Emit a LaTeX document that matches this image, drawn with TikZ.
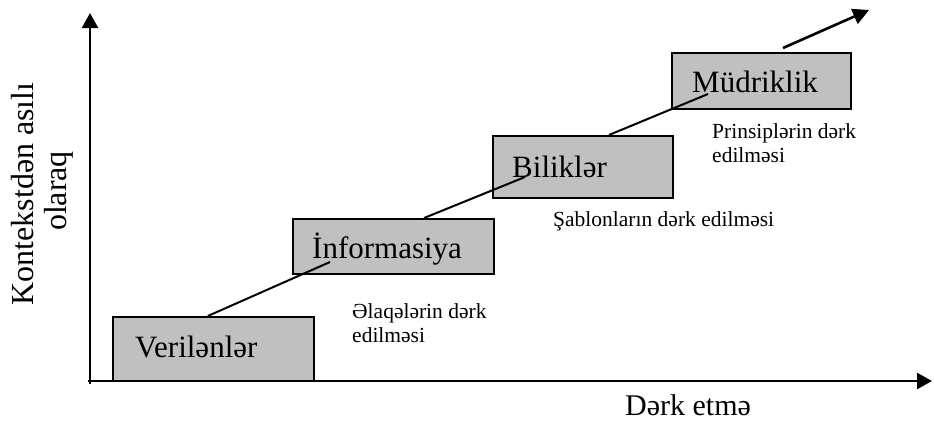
\documentclass[tikz,border=0pt]{standalone}
\usepackage{fontspec}
\setmainfont{Liberation Serif}
\usetikzlibrary{arrows.meta,calc}
\definecolor{boxgray}{HTML}{C0C0C0}
\begin{document}
\begin{tikzpicture}[x=1pt,y=-1pt,
  stagebox/.style={draw=black, line width=1.6pt, fill=boxgray, inner sep=0pt, anchor=north west},
  bigtext/.style={font=\fontsize{31}{36}\selectfont, inner sep=0pt, anchor=base west},
  smalltext/.style={font=\fontsize{21.5}{24}\selectfont, inner sep=0pt, anchor=base west},
  axislabel/.style={font=\fontsize{32}{36}\selectfont, inner sep=0pt, anchor=base, rotate=90},
  axis/.style={line width=2.4pt, -{Triangle[length=15pt,width=16pt]}},
  link/.style={line width=2pt},
  tiplink/.style={line width=2.6pt, -{Triangle[length=16pt,width=16pt]}}
]
\useasboundingbox (0,0) rectangle (934,423);
% axes
\coordinate (origin) at (90,381);
\coordinate (ytop) at (90,13);
\coordinate (xend) at (932,381);
\draw[axis] (90,384) -- (ytop);
\draw[axis] (88,381) -- (xend);
% boxes
\node[stagebox, minimum width=201pt, minimum height=64pt] (vbox) at (112,316) {};
\node[stagebox, minimum width=201pt, minimum height=55pt] (ibox) at (292,218) {};
\node[stagebox, minimum width=180pt, minimum height=62pt] (bbox) at (492,135) {};
\node[stagebox, minimum width=179pt, minimum height=56pt] (mbox) at (671,52) {};
% box texts
\node[bigtext] (vtext) at (135,357) {Verilənlər};
\node[bigtext] (itext) at (312,258) {İnformasiya};
\node[bigtext] (btext) at (512,177) {Biliklər};
\node[bigtext] (mtext) at (692,92) {Müdriklik};
% connectors
\coordinate (c1) at (330,262);
\coordinate (c2) at (525,177);
\coordinate (c3) at (708,94);
\coordinate (c4) at (869,10);
\draw[link] ($(vbox.north west)!0.473!(vbox.north east)$) -- (c1);
\draw[link] ($(ibox.north west)!0.652!(ibox.north east)$) -- (c2);
\draw[link] ($(bbox.north west)!0.644!(bbox.north east)$) -- (c3);
\coordinate (c5) at (783,48);
\draw[tiplink] (c5) -- (c4);
% small labels
\node[smalltext] (l1a) at (352,318) {Əlaqələrin dərk};
\node[smalltext] (l1b) at (352,342) {edilməsi};
\node[smalltext] (l2) at (553,226) {Şablonların dərk edilməsi};
\node[smalltext] (l3a) at (712,138) {Prinsiplərin dərk};
\node[smalltext] (l3b) at (712,162) {edilməsi};
% axis labels
\node[axislabel] (ylab1) at (33,194) {Kontekstdən asılı};
\node[axislabel] (ylab2) at (66,191) {olaraq};
\node[font=\fontsize{30}{36}\selectfont, inner sep=0pt, anchor=base west] (xlab) at (625,415) {Dərk etmə};
\end{tikzpicture}
\end{document}
